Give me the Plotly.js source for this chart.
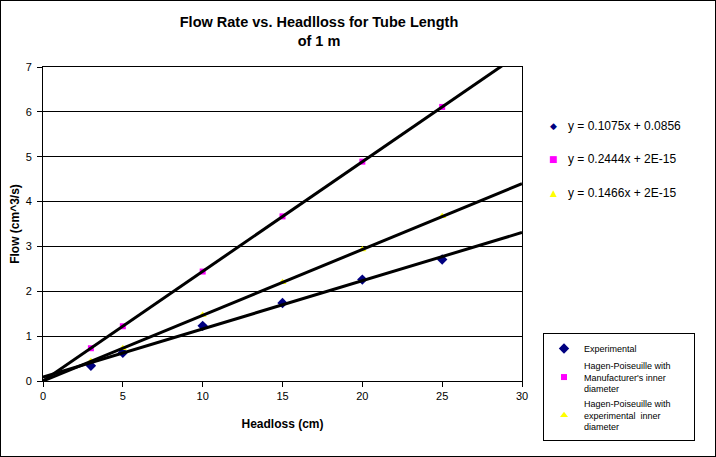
<!DOCTYPE html>
<html>
<head>
<meta charset="utf-8">
<script src="https://cdn.plot.ly/plotly-3.0.1.min.js"></script>
<style>
  html, body { margin: 0; padding: 0; background: #fff; }
  #wrap { position: relative; width: 716px; height: 457px; }
  #frame { position: absolute; left: 0; top: 0; width: 716px; height: 457px;
           box-sizing: border-box; border: 1px solid #000; pointer-events: none; }
</style>
</head>
<body>
<div id="wrap">
  <div id="chart"></div>
  <div id="frame"></div>
</div>
<script>
// headloss (cm)
const headloss = [3, 5, 10, 15, 20, 25];

// flow (cm^3/s)
const experimental = [0.34, 0.63, 1.23, 1.74, 2.26, 2.71];
const hpManufacturer = [0.73, 1.22, 2.44, 3.67, 4.89, 6.11];
const hpExperimental = [0.44, 0.73, 1.47, 2.20, 2.93, 3.67];

// trendline end points, from the fitted equations
const trendX = [0, 30];
const trendExp = [0.0856, 3.3106];
const trendManu = [0, 7.332];
const trendHpExp = [0, 4.398];

const equations = [
  { text: 'y = 0.1075x + 0.0856', symbol: '◆', color: '#000080' },
  { text: 'y = 0.2444x + 2E-15', symbol: '■', color: '#ff00ff' },
  { text: 'y = 0.1466x + 2E-15', symbol: '▲', color: '#ffff00' }
];

const font = 'Liberation Sans, Arial, sans-serif';
const pad = '&nbsp;'.repeat(7); // Excel's legend box is wider than its text

const markerTraces = [
  {
    x: headloss, y: experimental, type: 'scatter', mode: 'markers',
    name: 'Experimental',
    marker: { symbol: 'diamond', size: 8, color: '#000080' }
  },
  {
    x: headloss, y: hpManufacturer, type: 'scatter', mode: 'markers',
    name: 'Hagen-Poiseuille with' + pad + '<br>Manufacturer\'s inner<br>diameter',
    marker: { symbol: 'square', size: 6, color: '#ff00ff' }
  },
  {
    x: headloss, y: hpExperimental, type: 'scatter', mode: 'markers',
    name: 'Hagen-Poiseuille with<br>experimental  inner<br>diameter',
    marker: { symbol: 'triangle-up', size: 7, color: '#ffff00' }
  }
];

const lineTraces = [trendExp, trendManu, trendHpExp].map(function (ys) {
  return {
    x: trendX, y: ys, type: 'scatter', mode: 'lines',
    showlegend: false, hoverinfo: 'skip',
    line: { color: '#000', width: 3 }
  };
});

// equation labels sit to the right of the plot area (pixel positions -> paper)
const eqY = [126, 159, 193];
const annotations = [];
equations.forEach(function (eq, i) {
  const yp = (381 - eqY[i]) / 314;
  annotations.push({
    xref: 'paper', yref: 'paper', x: (553 - 43) / 479, y: yp,
    xanchor: 'center', yanchor: 'middle', showarrow: false,
    text: eq.symbol, font: { family: 'DejaVu Sans', size: 9, color: eq.color }
  });
  annotations.push({
    xref: 'paper', yref: 'paper', x: (566 - 43) / 479, y: yp,
    xanchor: 'left', yanchor: 'middle', showarrow: false,
    text: eq.text, font: { family: font, size: 12, color: '#000' }
  });
});

const layout = {
  width: 716, height: 457,
  margin: { l: 43, r: 194, t: 67, b: 76 },
  paper_bgcolor: '#fff',
  plot_bgcolor: '#fff',
  font: { family: font, size: 11, color: '#000' },
  title: {
    text: '<b>Flow Rate vs. Headlloss for Tube Length<br>of 1 m</b>',
    font: { family: font, size: 14.5, color: '#000' },
    x: 319 / 716, xanchor: 'center', xref: 'container',
    y: 0.94, yanchor: 'top', automargin: false
  },
  xaxis: {
    range: [0, 30], dtick: 5, tick0: 0, automargin: false,
    showgrid: false, zeroline: false,
    showline: true, linecolor: '#000', linewidth: 1, mirror: true,
    ticks: 'outside', ticklen: 5, tickcolor: '#000',
    tickfont: { family: font, size: 11 },
    title: { text: '<b>Headloss (cm)</b>', font: { family: font, size: 12 }, standoff: 18 }
  },
  yaxis: {
    range: [0, 7], dtick: 1, tick0: 0, automargin: false,
    showgrid: true, gridcolor: '#000', gridwidth: 1, zeroline: false,
    showline: true, linecolor: '#000', linewidth: 1, mirror: true,
    ticks: 'outside', ticklen: 5, tickcolor: '#000',
    ticklabelstandoff: 3,
    tickfont: { family: font, size: 11 },
    title: { text: '<b>Flow (cm^3/s)</b>', font: { family: font, size: 12 }, standoff: 3 }
  },
  showlegend: true,
  legend: {
    x: (543 - 43) / 479, y: (381 - 333) / 314,
    xanchor: 'left', yanchor: 'top',
    bordercolor: '#000', borderwidth: 1, bgcolor: '#fff',
    font: { family: font, size: 9, color: '#000' },
    tracegroupgap: 0, itemwidth: 30
  },
  annotations: annotations
};

Plotly.newPlot('chart', markerTraces.concat(lineTraces), layout, { displayModeBar: false, staticPlot: true });
</script>
</body>
</html>
